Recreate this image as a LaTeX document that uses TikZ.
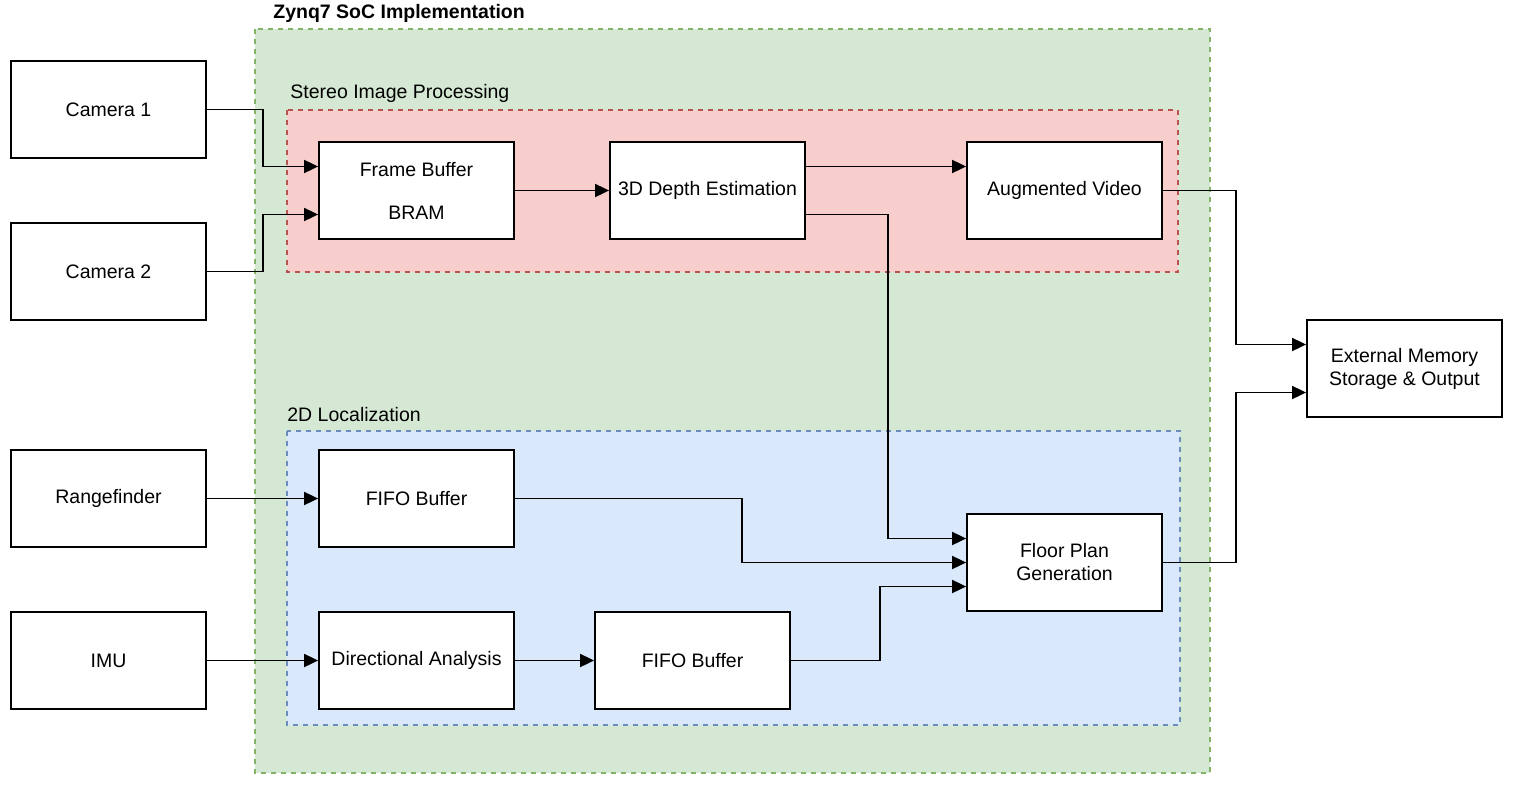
\documentclass[tikz,border=0pt]{standalone}
\usepackage{fontspec}
\setmainfont{Liberation Sans}
\usetikzlibrary{arrows.meta}

\definecolor{socfill}{HTML}{D5E8D4}
\definecolor{socline}{HTML}{82B366}
\definecolor{stereofill}{HTML}{F8CECC}
\definecolor{stereoline}{HTML}{B85450}
\definecolor{locfill}{HTML}{DAE8FC}
\definecolor{locline}{HTML}{6C8EBF}

\begin{document}
\begin{tikzpicture}[x=0.5pt, y=-0.5pt,
  font=\fontsize{9.75}{11.5}\selectfont,
  block/.style={draw, line width=0.9pt, fill=white, align=center,
    minimum width=97.5pt, minimum height=48.5pt, inner sep=0pt},
  group/.style={line width=0.6pt, dash pattern=on 2.5pt off 2.5pt},
  flow/.style={line width=0.9pt, -{Triangle[length=7pt, width=6.5pt]}},
  caption/.style={anchor=west, inner sep=0pt}]
\useasboundingbox (0,0) rectangle (1514,798);

% containers
\draw[group, fill=socfill, draw=socline] (255,29) rectangle (1210,773);
\draw[group, fill=stereofill, draw=stereoline] (287,110) rectangle (1178,272);
\draw[group, fill=locfill, draw=locline] (287,431) rectangle (1180,725);

\node[caption, font=\fontsize{9.75}{11.5}\selectfont\bfseries] (soc) at (273,13) {Zynq7 SoC Implementation};
\node[caption] (stereo) at (290,93) {Stereo Image Processing};
\node[caption] (loc) at (287,415) {2D Localization};

% sensors
\node[block] (cam1)  at (108.5,109.5) {Camera 1};
\node[block] (cam2)  at (108.5,271.5) {Camera 2};
\node[block] (range) at (108.5,498.5) {Rangefinder};
\node[block] (imu)   at (108.5,660.5) {IMU};

% stereo blocks
\node[block] (fb)    at (416.5,190.5) {Frame Buffer\\[10pt]BRAM};
\node[block] (depth) at (707.5,190.5) {3D Depth Estimation};
\node[block] (aug)   at (1064.5,190.5) {Augmented Video};

% localization blocks
\node[block] (fifoA) at (416.5,498.5) {FIFO Buffer};
\node[block] (dir)   at (416.5,660.5) {Directional Analysis};
\node[block] (fifoB) at (692.5,660.5) {FIFO Buffer};
\node[block] (floor) at (1064.5,562.5) {Floor Plan\\Generation};

\node[block] (ext)   at (1404.5,368.5) {External Memory\\Storage \& Output};

% connections
\draw[flow] (cam1.east) -- ++(56,0) |- ([yshift=12pt]fb.west);
\draw[flow] (cam2.east) -- ++(56,0) |- ([yshift=-12pt]fb.west);
\draw[flow] (fb.east) -- (depth.west);
\draw[flow] ([yshift=12pt]depth.east) -- ([yshift=12pt]aug.west);
\draw[flow] ([yshift=-12pt]depth.east) -- ++(82,0) |- ([yshift=12pt]floor.west);
\draw[flow] (range.east) -- (fifoA.west);
\draw[flow] (imu.east) -- (dir.west);
\draw[flow] (dir.east) -- (fifoB.west);
\draw[flow] (fifoA.east) -- ++(227,0) |- (floor.west);
\draw[flow] (fifoB.east) -- ++(89,0) |- ([yshift=-12pt]floor.west);
\draw[flow] (aug.east) -- ++(73,0) |- ([yshift=12pt]ext.west);
\draw[flow] (floor.east) -- ++(73,0) |- ([yshift=-12pt]ext.west);
\end{tikzpicture}
\end{document}
